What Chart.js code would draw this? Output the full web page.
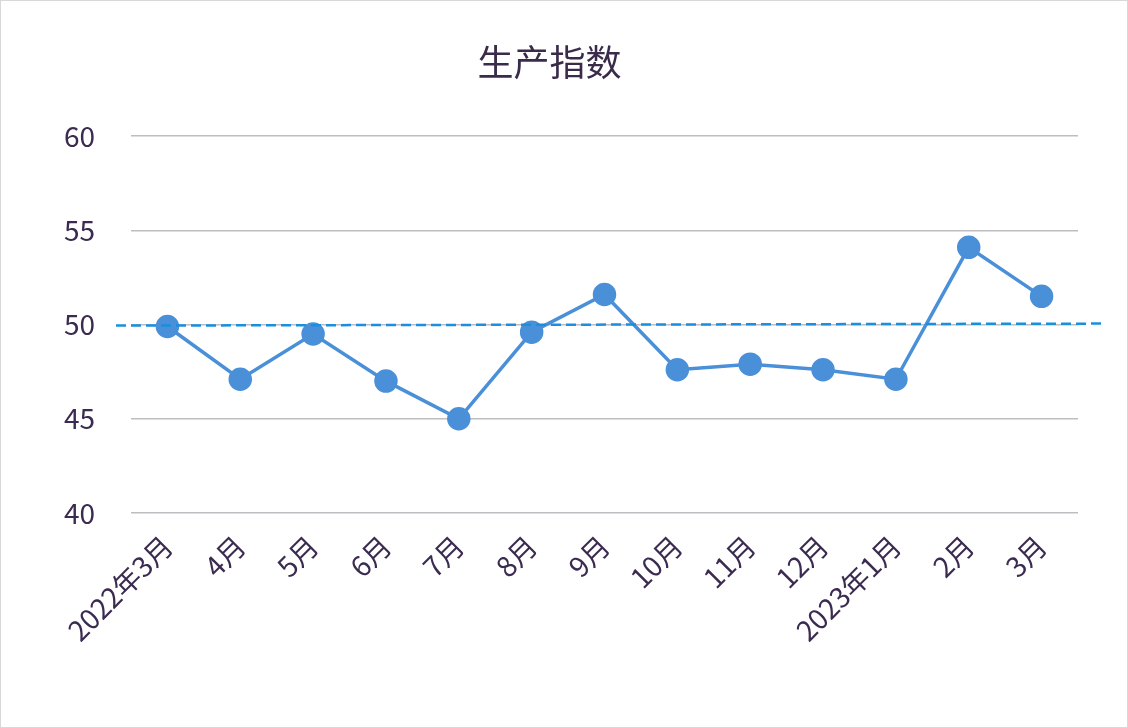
<!DOCTYPE html>
<html><head><meta charset="utf-8">
<script src="https://cdn.jsdelivr.net/npm/chart.js@4/dist/chart.umd.min.js"></script>
<style>html,body{margin:0;padding:0;background:#fff}#w{width:1128px;height:728px;box-sizing:border-box;border:1px solid #d8d8d8}</style>
</head><body><div id="w"><canvas id="c" width="1126" height="726"></canvas></div>
<script>
const categories=["2022年3月","4月","5月","6月","7月","8月","9月","10月","11月","12月","2023年1月","2月","3月"];
const values=[49.9,47.1,49.5,47.0,45.0,49.6,51.6,47.6,47.9,47.6,47.1,54.1,51.5];
const refValue=50;
const yTicks=[40,45,50,55,60];
const font="'Noto Sans CJK SC','Noto Sans',sans-serif";
const refLine={id:'ref',afterDatasetsDraw(ch){const y=ch.scales.y.getPixelForValue(refValue);const c=ch.ctx;c.save();c.strokeStyle='#1a8fe0';c.lineWidth=2.5;c.setLineDash([10,5]);c.beginPath();c.moveTo(115,y+1);c.lineTo(1100,y-1);c.stroke();c.restore();}};
new Chart(document.getElementById('c'),{type:'line',data:{labels:categories,datasets:[{data:values,borderColor:'#4a90d9',backgroundColor:'#4a90d9',borderWidth:3.5,pointRadius:10,pointHoverRadius:10,tension:0}]},
options:{responsive:false,animation:false,layout:{padding:{left:20,right:49,top:0,bottom:14}},
plugins:{legend:{display:false},tooltip:{enabled:false},title:{display:true,text:'生产指数',color:'#3a2b4a',font:{family:font,size:36,weight:'normal'},padding:{top:40,bottom:52}}},
scales:{y:{min:40,max:60,afterFit(s){s.width=110;},afterBuildTicks(a){a.ticks=yTicks.map(v=>({value:v}));},border:{display:false},grid:{color:'#bdbdc2',lineWidth:1.5,drawTicks:false},ticks:{color:'#3b2b50',font:{family:font,size:28},padding:36}},
x:{offset:true,afterFit(s){s.height=200;},grid:{display:false,offset:true},border:{display:false},ticks:{color:'#3b2b50',font:{family:font,size:28},maxRotation:45,minRotation:45,padding:8}}}},plugins:[refLine]});
</script></body></html>
